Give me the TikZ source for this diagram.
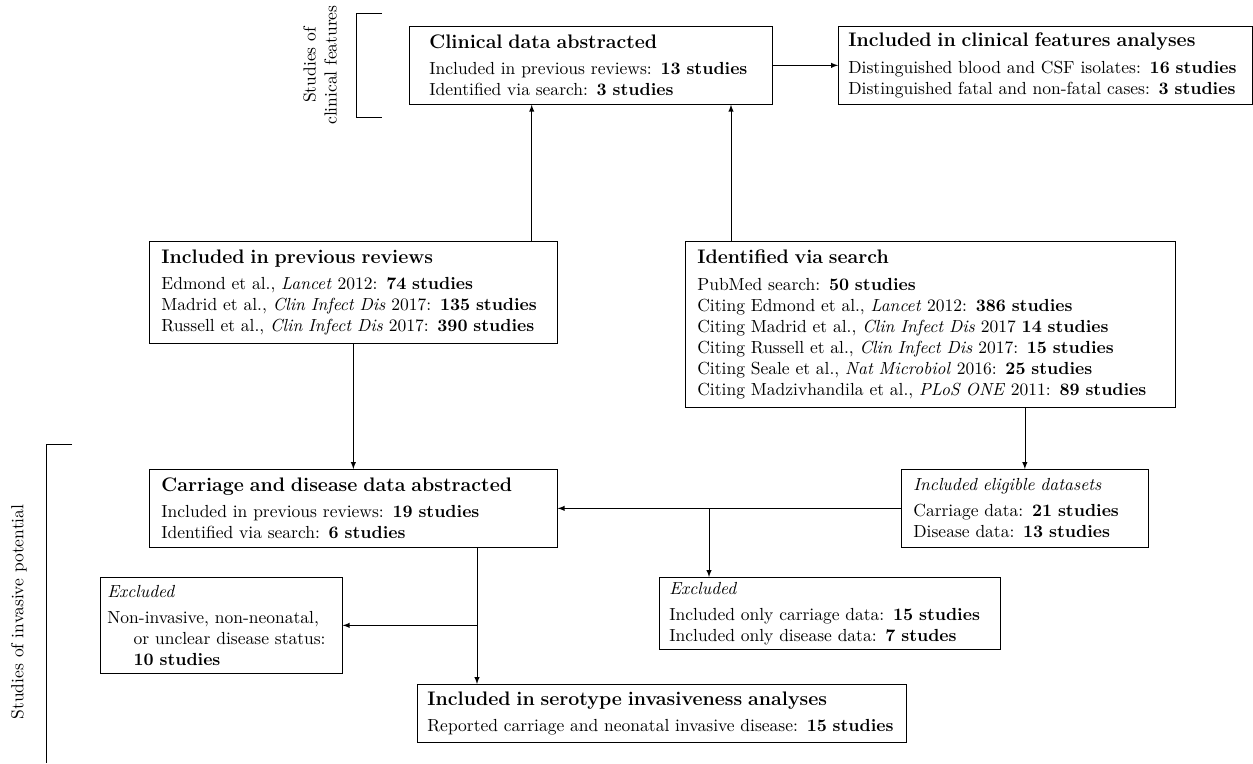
\documentclass[tikz,border=0pt]{standalone}
\usetikzlibrary{calc}
\newcommand{\pxl}[1]{#1*0.5714pt}
\newcommand{\boxhead}[1]{{\fontsize{11.2}{13.5}\selectfont\bfseries #1}\\[3pt]}
\newcommand{\subhead}[1]{\textit{#1}\\[3pt]}
\tikzset{
  >=latex,
  BoxStyle/.style  = { draw, anchor=north west, align=left,
                       inner xsep=\pxl{12}, inner ysep=0pt },
  SideStyle/.style = { rotate=90, align=center },
  EdgeStyle/.style = { -> } }

\begin{document}
\begin{tikzpicture}[x=0.5714pt, y=-0.5714pt]
  \useasboundingbox (0,0) rectangle (1253,763);
  % clinical features
  \node[BoxStyle, inner xsep=\pxl{20}, text width=\pxl{323}, minimum height=\pxl{78}](clin) at (409,26){%
    \boxhead{Clinical data abstracted}
    Included in previous reviews: \textbf{13 studies}\\
    Identified via search: \textbf{3 studies}};
  \node[BoxStyle, inner xsep=\pxl{10}, text width=\pxl{394}, minimum height=\pxl{78}](feat) at (838,26){%
    \boxhead{Included in clinical features analyses}
    Distinguished blood and CSF isolates: \textbf{16 studies}\\
    Distinguished fatal and non-fatal cases: \textbf{3 studies}};
  \node[BoxStyle, text width=\pxl{384}, minimum height=\pxl{102}](prev) at (149,241){%
    \boxhead{Included in previous reviews}
    Edmond et al., \textit{Lancet} 2012: \textbf{74 studies}\\
    Madrid et al., \textit{Clin Infect Dis} 2017: \textbf{135 studies}\\
    Russell et al., \textit{Clin Infect Dis} 2017: \textbf{390 studies}};
  \node[BoxStyle, text width=\pxl{466}, minimum height=\pxl{166}](srch) at (685,241){%
    \boxhead{Identified via search}
    PubMed search: \textbf{50 studies}\\
    Citing Edmond et al., \textit{Lancet} 2012: \textbf{386 studies}\\
    Citing Madrid et al., \textit{Clin Infect Dis} 2017 \textbf{14 studies}\\
    Citing Russell et al., \textit{Clin Infect Dis} 2017: \textbf{15 studies}\\
    Citing Seale et al., \textit{Nat Microbiol} 2016: \textbf{25 studies}\\
    Citing Madzivhandila et al., \textit{PLoS ONE} 2011: \textbf{89 studies}};
  % invasive potential
  \node[BoxStyle, text width=\pxl{384}, minimum height=\pxl{78}](carr) at (149,469){%
    \boxhead{Carriage and disease data abstracted}
    Included in previous reviews: \textbf{19 studies}\\
    Identified via search: \textbf{6 studies}};
  \node[BoxStyle, text width=\pxl{223}, minimum height=\pxl{78}](elig) at (901,469){%
    \subhead{Included eligible datasets}
    Carriage data: \textbf{21 studies}\\
    Disease data: \textbf{13 studies}};
  \node[BoxStyle, text width=\pxl{321}, inner xsep=\pxl{10}, minimum height=\pxl{72}](exright) at (659,577){%
    \subhead{Excluded}
    Included only carriage data: \textbf{15 studies}\\
    Included only disease data: \textbf{7 studes}};
  \node[BoxStyle, inner xsep=\pxl{7}, text width=\pxl{228}, minimum height=\pxl{96}](exleft) at (100,577){%
    \subhead{Excluded}
    Non-invasive, non-neonatal,\\
    \hspace*{1.5em}or unclear disease status:\\
    \hspace*{1.5em}\textbf{10 studies}};
  \node[BoxStyle, inner xsep=\pxl{10}, text width=\pxl{469}, minimum height=\pxl{58}](sero) at (417,684){%
    \boxhead{Included in serotype invasiveness analyses}
    Reported carriage and neonatal invasive disease: \textbf{15 studies}};

  % side brackets
  \draw (382,13) -- (356,13) -- (356,117) -- (382,117);
  \node[SideStyle](clinlab) at (320,65){Studies of\\clinical features};
  \draw (72,444) -- (46,444) -- (46,763);
  \node[SideStyle](invlab) at (19,612){Studies of invasive potential};

  % connectors
  \coordinate (up1) at ($(prev.north east)+(-26,0)$);
  \coordinate (up2) at ($(srch.north west)+(46,0)$);
  \draw[EdgeStyle] (up1) -- (up1 |- clin.south);
  \draw[EdgeStyle] (up2) -- (up2 |- clin.south);
  \draw[EdgeStyle] (clin) -- (feat);
  \draw[EdgeStyle] (prev) -- (carr);
  \draw[EdgeStyle] (srch.south -| elig.north) -- (elig.north);
  \draw[EdgeStyle] (elig) -- (carr);
  \coordinate (dn1) at ($(exright.north west)+(50,0)$);
  \draw[EdgeStyle] (dn1 |- elig.west) -- (dn1);
  \coordinate (dn2) at ($(sero.north west)+(60,0)$);
  \draw[EdgeStyle] (dn2 |- carr.south) -- (dn2);
  \draw[EdgeStyle] (dn2 |- exleft.east) -- (exleft.east);
\end{tikzpicture}
\end{document}
